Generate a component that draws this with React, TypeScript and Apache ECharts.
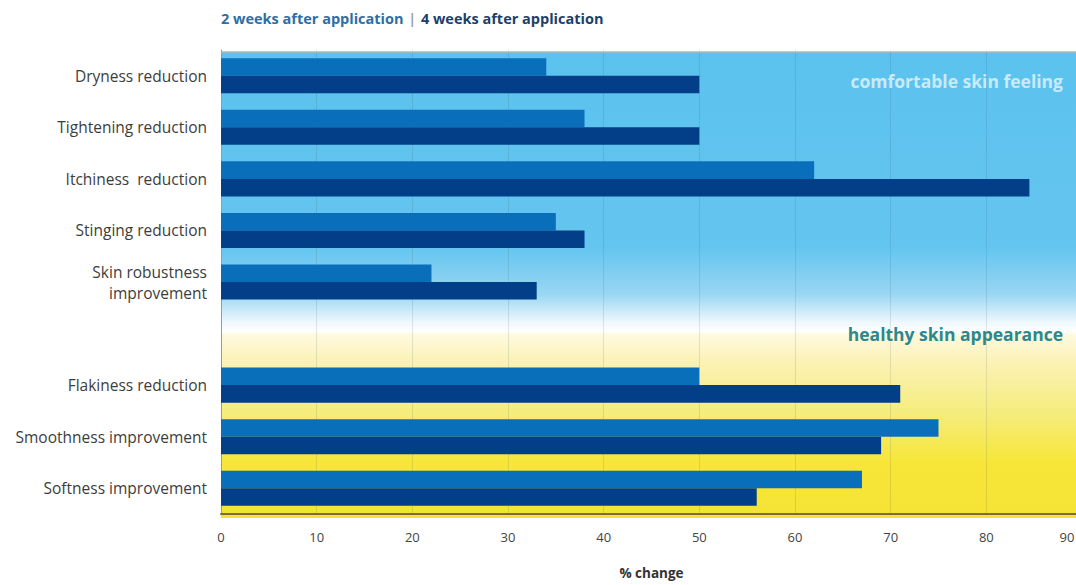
import React, { useEffect, useRef } from "react";
import * as echarts from "echarts";

const categories = [
  "Dryness reduction",
  "Tightening reduction",
  "Itchiness  reduction",
  "Stinging reduction",
  "Skin robustness\nimprovement",
  "",
  "Flakiness reduction",
  "Smoothness improvement",
  "Softness improvement",
];
const week2Values = [34, 38, 62, 35, 22, null, 50, 75, 67];
const week4Values = [50, 50, 84.5, 38, 33, null, 71, 69, 56];
const seriesNames = ["2 weeks after application", "4 weeks after application"];
const xTicks = { min: 0, max: 90, interval: 10 };
const zoneLabels = ["comfortable skin feeling", "healthy skin appearance"];

const FONT = "'Open Sans', 'Noto Sans', sans-serif";

export default function App() {
  const ref = useRef<HTMLDivElement>(null);
  useEffect(() => {
    if (!ref.current) return;
    document.body.style.overflow = "hidden";
    const chart = echarts.init(ref.current, undefined, { renderer: "svg" });
    const bg = new echarts.graphic.LinearGradient(0, 0, 0, 1, [
      { offset: 0, color: "#5bc2ee" },
      { offset: 0.42, color: "#64c5ef" },
      { offset: 0.52, color: "#9ad6f3" },
      { offset: 0.58, color: "#eef8fd" },
      { offset: 0.6, color: "#ffffff" },
      { offset: 0.606, color: "#fef9df" },
      { offset: 0.66, color: "#fbf2b8" },
      { offset: 0.78, color: "#f5ec7a" },
      { offset: 0.88, color: "#f7e638" },
      { offset: 1, color: "#f5e334" },
    ]);
    chart.setOption({
      animation: false,
      textStyle: { fontFamily: FONT },
      title: {
        left: 216,
        top: 4,
        text: `{a|${seriesNames[0]}} {s||} {b|${seriesNames[1]}}`,
        textStyle: {
          rich: {
            a: { color: "#2f6ea3", fontSize: 14.5, fontWeight: "bold", fontFamily: FONT },
            s: { color: "#9aa4ae", fontSize: 14.5, fontFamily: FONT },
            b: { color: "#1d3f6b", fontSize: 14.5, fontWeight: "bold", fontFamily: FONT },
          },
        },
      },
      grid: { left: 221, top: 50, right: 0, bottom: 67 },
      graphic: [
        {
          type: "rect",
          z: -10,
          silent: true,
          shape: { x: 221, y: 52, width: 861, height: 466 },
          style: { fill: bg },
        },
        {
          type: "line",
          z: 10,
          silent: true,
          shape: { x1: 221, y1: 52, x2: 1082, y2: 52 },
          style: { stroke: "#b4b4b4", lineWidth: 1.5 },
        },
        {
          type: "text",
          z: 10,
          x: 1063,
          y: 81,
          style: {
            text: zoneLabels[0],
            fill: "rgba(232,246,252,0.8)",
            fontSize: 17.5,
            fontWeight: "bold",
            fontFamily: FONT,
            align: "right",
            verticalAlign: "middle",
          },
        },
        {
          type: "text",
          z: 10,
          x: 1063,
          y: 334,
          style: {
            text: zoneLabels[1],
            fill: "#2b8790",
            fontSize: 17.5,
            fontWeight: "bold",
            fontFamily: FONT,
            align: "right",
            verticalAlign: "middle",
          },
        },
      ],
      xAxis: {
        type: "value",
        min: xTicks.min,
        max: xTicks.max,
        interval: xTicks.interval,
        name: "% change",
        nameLocation: "middle",
        nameGap: 52,
        nameTextStyle: { color: "#333", fontSize: 13.5, fontWeight: "bold", fontFamily: FONT },
        axisLine: { show: true, lineStyle: { color: "#7d6b3c", width: 2 } },
        axisTick: { show: false },
        axisLabel: {
          color: "#444",
          fontSize: 13,
          margin: 16,
          fontFamily: FONT,
          formatter: (v: number) => (v === xTicks.max ? `{r|${v}}` : String(v)),
          rich: { r: { color: "#444", fontSize: 13, fontFamily: FONT, padding: [0, 30, 0, 0] } },
        },
        splitLine: { show: true, lineStyle: { color: "rgba(40,70,80,0.13)", width: 1 } },
      },
      yAxis: {
        type: "category",
        data: categories,
        inverse: true,
        axisLine: { show: true, lineStyle: { color: "#9a9a9a", width: 1 } },
        axisTick: { show: false },
        axisLabel: {
          color: "#3d3d3d",
          fontSize: 15.5,
          margin: 14,
          lineHeight: 21,
          padding: [5, 0, 0, 0],
          fontFamily: FONT,
        },
        splitLine: { show: false },
      },
      series: [
        {
          name: seriesNames[0],
          type: "bar",
          data: week2Values,
          barGap: "0%",
          barCategoryGap: "32%",
          itemStyle: { color: "#0a6fbb" },
        },
        {
          name: seriesNames[1],
          type: "bar",
          data: week4Values,
          barGap: "0%",
          barCategoryGap: "32%",
          itemStyle: { color: "#033f88" },
        },
      ],
    });
    return () => chart.dispose();
  }, []);
  return (
    <div
      ref={ref}
      style={{ position: "fixed", left: 0, top: 0, width: 1082, height: 585, background: "#fff" }}
    />
  );
}
